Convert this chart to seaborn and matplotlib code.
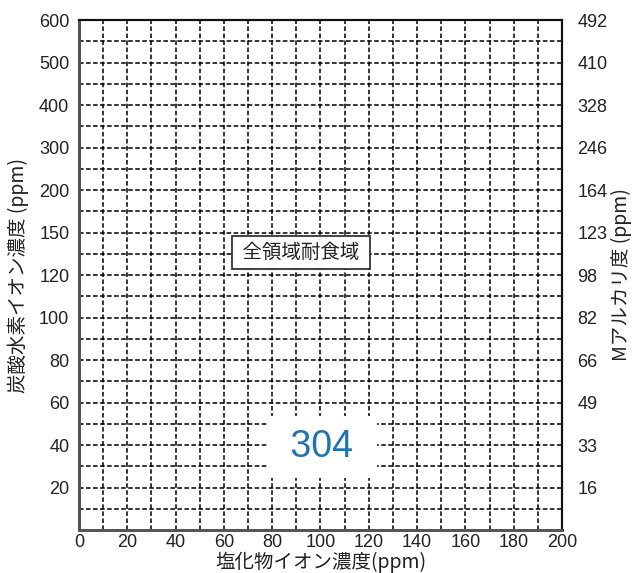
import matplotlib
matplotlib.use("Agg")
import matplotlib.pyplot as plt
import numpy as np
import seaborn as sns

# chart values
x_ticks = [0, 20, 40, 60, 80, 100, 120, 140, 160, 180, 200]
x_minor = [10, 30, 50, 70, 90, 110, 130, 150, 170, 190]
left_labels = [20, 40, 60, 80, 100, 120, 150, 200, 300, 400, 500, 600]   # 炭酸水素イオン濃度
right_labels = [16, 33, 49, 66, 82, 98, 123, 164, 246, 328, 410, 492]    # Mアルカリ度
zone_label = "全領域耐食域"
grade_label = "304"

sns.set_theme(style="white")
plt.rcParams['font.family'] = ['Liberation Sans', 'Noto Sans CJK JP', 'DejaVu Sans']
jp = ['Noto Sans CJK JP', 'DejaVu Sans']

fig = plt.figure(figsize=(6.39, 5.73), dpi=100)
ax = fig.add_axes([0.1236, 0.075, 0.7559, 0.89])

levels = np.arange(1, len(left_labels) + 1)
ax.set_xlim(x_ticks[0], x_ticks[-1])
ax.set_ylim(0, len(left_labels))
ax.set_xticks(x_ticks)
ax.set_xticks(x_minor, minor=True)
ax.set_yticks(levels)
ax.set_yticks(levels - 0.5, minor=True)
ax.set_yticklabels(left_labels)
ax.grid(which='both', color='black', linestyle=(0, (3, 1.6)), linewidth=1.1)
ax.tick_params(which='both', length=0, labelsize=13, colors='#222222')
ax.tick_params(axis='y', pad=7)
ax.tick_params(axis='x', pad=3)

ax2 = ax.twinx()
ax2.set_ylim(0, len(right_labels))
ax2.set_yticks(levels)
ax2.set_yticklabels(right_labels)
ax2.tick_params(length=0, labelsize=13, colors='#222222', pad=11)

for a in (ax, ax2):
    for s in ('top', 'right'):
        a.spines[s].set_color('#111111')
        a.spines[s].set_linewidth(1.5)
    for s in ('left', 'bottom'):
        a.spines[s].set_color('#555555')
        a.spines[s].set_linewidth(2)

ax.set_xlabel("塩化物イオン濃度(ppm)", family=jp, fontsize=14, color='#222222', va='center')
ax.xaxis.set_label_coords(0.5, -0.063)
ax.set_ylabel("炭酸水素イオン濃度 (ppm)", family=jp, fontsize=14, color='#222222', va='center')
ax.yaxis.set_label_coords(-0.126, 0.5)
ax2.set_ylabel("Mアルカリ度 (ppm)", family=jp, fontsize=14, color='#222222', va='center')
ax2.yaxis.set_label_coords(1.124, 0.5)

ax.text(92, 6.53, " " + zone_label + " ", family=jp, fontsize=14, ha='center', va='center',
        color='#222222', zorder=5,
        bbox=dict(boxstyle='square,pad=0.3', facecolor='white', edgecolor='#222222', linewidth=1.2))
ax.text(100.5, 1.95, " " + grade_label + " ", fontsize=27, ha='center', va='center',
        color='#1b74bb', zorder=5,
        bbox=dict(boxstyle='square,pad=0.35', facecolor='white', edgecolor='none'))

fig.savefig("out.png", dpi=100)
